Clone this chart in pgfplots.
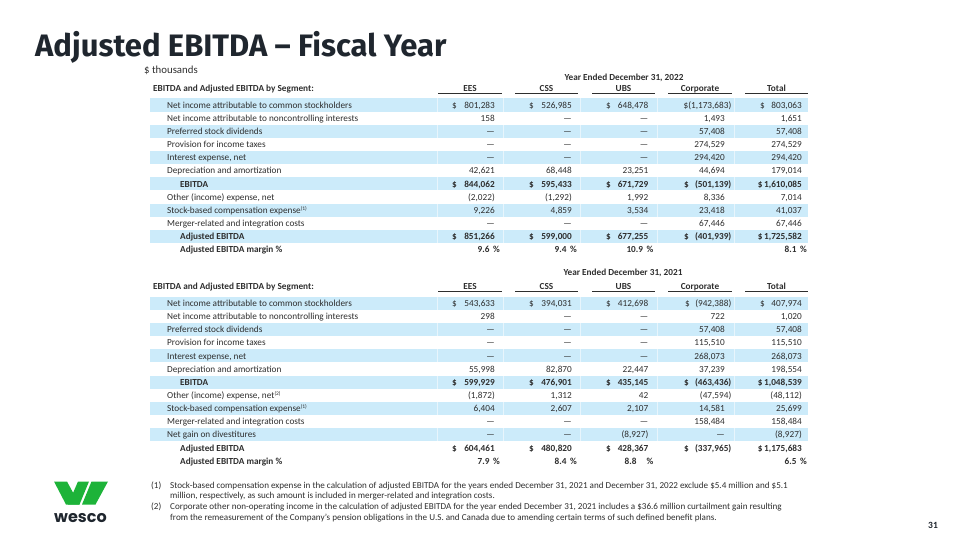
\documentclass[border=0pt]{standalone}
\usepackage{graphicx}
\usepackage{pgfplots}
\pgfplotsset{compat=1.18}
\usepackage{fontspec}
\setmainfont{Carlito}
\newfontfamily\titlefont{Fira Sans}
\newfontfamily\logofont{Poppins}
\definecolor{band}{HTML}{CCEBFA}
\definecolor{txt}{HTML}{2E2E2E}
\definecolor{ttl}{HTML}{1F262E}
\definecolor{wgreen}{HTML}{1DB339}
\newcommand\bodyfont{\fontsize{9.25}{10}\selectfont}
\tikzset{
  t/.style={font=\bodyfont, text=txt, inner sep=0pt, yshift=-3.2pt},
  L/.style={t, anchor=base west},
  N/.style={t, anchor=base east},
  C/.style={t, anchor=base},
}
\newcommand\dd{\textemdash}
\newcommand\fnm[1]{\raisebox{3.2pt}{\fontsize{5.5}{6}\selectfont(#1)}}
% normal row: y, label, EES, CSS, UBS, Corp, Total
\newcommand\Row[7]{%
  \node[L] at (axis cs:167,#1) {#2};
  \node[N] at (axis cs:495,#1) {#3};
  \node[N] at (axis cs:572,#1) {#4};
  \node[N] at (axis cs:648.5,#1) {#5};
  \node[N] at (axis cs:725,#1) {#6};
  \node[N] at (axis cs:802,#1) {#7};
}
\newcommand\BRow[7]{%
  \node[L] at (axis cs:180,#1) {\bfseries #2};
  \node[N] at (axis cs:495,#1) {\bfseries #3};
  \node[N] at (axis cs:572,#1) {\bfseries #4};
  \node[N] at (axis cs:648.5,#1) {\bfseries #5};
  \node[N] at (axis cs:725,#1) {\bfseries #6};
  \node[N] at (axis cs:802,#1) {\bfseries #7};
}
\newcommand\Dol[2]{\node[L] at (axis cs:#2,#1) {\$};}
\newcommand\BDol[2]{\node[L] at (axis cs:#2,#1) {\bfseries\$};}
\newcommand\Band[1]{%
  \fill[band] (axis cs:150,#1-6.57) rectangle (axis cs:808,#1+6.57);
  \draw[white, opacity=0.55, line width=0.6pt] (axis cs:437,#1-6.57) -- (axis cs:437,#1+6.57);
  \draw[white, opacity=0.55, line width=0.6pt] (axis cs:503,#1-6.57) -- (axis cs:503,#1+6.57);
  \draw[white, opacity=0.55, line width=0.6pt] (axis cs:580,#1-6.57) -- (axis cs:580,#1+6.57);
  \draw[white, opacity=0.55, line width=0.6pt] (axis cs:657,#1-6.57) -- (axis cs:657,#1+6.57);
  \draw[white, opacity=0.55, line width=0.6pt] (axis cs:734,#1-6.57) -- (axis cs:734,#1+6.57);
}
\newcommand\Hang[1]{#1\hspace*{-6.5pt}}
\newcommand\Pct[1]{\bfseries #1\hspace{3.5pt}\%\hspace*{-5pt}}
\newcommand\Heads[1]{%
  \node[C] at (axis cs:470,#1) {\bfseries EES};
  \node[C] at (axis cs:546.5,#1) {\bfseries CSS};
  \node[C] at (axis cs:623.5,#1) {\bfseries UBS};
  \node[C] at (axis cs:700,#1) {\bfseries Corporate};
  \node[C] at (axis cs:776.5,#1) {\bfseries Total};
  \node[L] at (axis cs:153,#1) {\bfseries EBITDA and Adjusted EBITDA by Segment:};
}
\newcommand\ULines[1]{%
  \draw[line width=0.8pt, txt] (axis cs:438,#1) -- (axis cs:502,#1);
  \draw[line width=0.8pt, txt] (axis cs:515,#1) -- (axis cs:578,#1);
  \draw[line width=0.8pt, txt] (axis cs:592,#1) -- (axis cs:655,#1);
  \draw[line width=0.8pt, txt] (axis cs:668,#1) -- (axis cs:732,#1);
  \draw[line width=0.8pt, txt] (axis cs:745,#1) -- (axis cs:808,#1);
}
\newcommand\fn{\fontsize{9.1}{10}\selectfont}
\begin{document}
\begin{tikzpicture}
\begin{axis}[
  width=960pt, height=540pt, scale only axis,
  xmin=0, xmax=960, ymin=0, ymax=540, y dir=reverse,
  hide axis, clip=false,
]
\path (axis cs:0,0) rectangle (axis cs:960,540);

% title
\node[anchor=base west, inner sep=0pt, text=ttl, font=\titlefont\bfseries\fontsize{31}{31}\selectfont] at (axis cs:35,57) {Adjusted EBITDA \textendash{} Fiscal Year};
\node[anchor=base west, inner sep=0pt, text=txt, font=\fontsize{10.8}{11}\selectfont] at (axis cs:144,74) {\$ thousands};

% ===== Table 1 (2022) =====
\Band{105}\Band{131.3}\Band{157.6}\Band{183.9}\Band{210.2}\Band{236.5}
\node[C] at (axis cs:624,77) {\bfseries Year Ended December 31, 2022};
\Heads{88.3}
\ULines{93.5}
\Row{105}{Net income attributable to common stockholders}{801,283}{526,985}{648,478}{\Hang{\$(1,173,683)}}{803,063}
\Dol{105}{452}\Dol{105}{529}\Dol{105}{606}\Dol{105}{760}
\Row{118.15}{Net income attributable to noncontrolling interests}{158}{\dd}{\dd}{1,493}{1,651}
\Row{131.3}{Preferred stock dividends}{\dd}{\dd}{\dd}{57,408}{57,408}
\Row{144.45}{Provision for income taxes}{\dd}{\dd}{\dd}{274,529}{274,529}
\Row{157.6}{Interest expense, net}{\dd}{\dd}{\dd}{294,420}{294,420}
\Row{170.75}{Depreciation and amortization}{42,621}{68,448}{23,251}{44,694}{179,014}
\BRow{183.9}{EBITDA}{844,062}{595,433}{671,729}{\Hang{(501,139)}}{\$\,1,610,085}
\BDol{183.9}{452}\BDol{183.9}{529}\BDol{183.9}{606}\BDol{183.9}{684}
\Row{197.05}{Other (income) expense, net}{(2,022)}{(1,292)}{1,992}{8,336}{7,014}
\Row{210.2}{Stock-based compensation expense\fnm{1}}{9,226}{4,859}{3,534}{23,418}{41,037}
\Row{223.35}{Merger-related and integration costs}{\dd}{\dd}{\dd}{67,446}{67,446}
\BRow{236.5}{Adjusted EBITDA}{851,266}{599,000}{677,255}{\Hang{(401,939)}}{\$\,1,725,582}
\BDol{236.5}{452}\BDol{236.5}{529}\BDol{236.5}{606}\BDol{236.5}{684}
\BRow{249.65}{Adjusted EBITDA margin \%}{\Pct{9.6}}{\Pct{9.4}}{\Pct{10.9}}{}{\Pct{8.1}}

% ===== Table 2 (2021) =====
\Band{303.3}\Band{329.58}\Band{355.86}\Band{382.14}\Band{408.42}\Band{434.7}
\node[C] at (axis cs:623,272) {\bfseries Year Ended December 31, 2021};
\Heads{286}
\ULines{291.5}
\Row{303.3}{Net income attributable to common stockholders}{543,633}{394,031}{412,698}{\Hang{(942,388)}}{407,974}
\Dol{303.3}{452}\Dol{303.3}{529}\Dol{303.3}{606}\Dol{303.3}{685}\Dol{303.3}{760}
\Row{316.44}{Net income attributable to noncontrolling interests}{298}{\dd}{\dd}{722}{1,020}
\Row{329.58}{Preferred stock dividends}{\dd}{\dd}{\dd}{57,408}{57,408}
\Row{342.72}{Provision for income taxes}{\dd}{\dd}{\dd}{115,510}{115,510}
\Row{355.86}{Interest expense, net}{\dd}{\dd}{\dd}{268,073}{268,073}
\Row{369.0}{Depreciation and amortization}{55,998}{82,870}{22,447}{37,239}{198,554}
\BRow{382.14}{EBITDA}{599,929}{476,901}{435,145}{\Hang{(463,436)}}{\$\,1,048,539}
\BDol{382.14}{452}\BDol{382.14}{529}\BDol{382.14}{606}\BDol{382.14}{684}
\Row{395.28}{Other (income) expense, net\fnm{2}}{(1,872)}{1,312}{42}{\Hang{(47,594)}}{(48,112)}
\Row{408.42}{Stock-based compensation expense\fnm{1}}{6,404}{2,607}{2,107}{14,581}{25,699}
\Row{421.56}{Merger-related and integration costs}{\dd}{\dd}{\dd}{158,484}{158,484}
\Row{434.7}{Net gain on divestitures}{\dd}{\dd}{(8,927)}{\dd}{(8,927)}
\BRow{447.84}{Adjusted EBITDA}{604,461}{480,820}{428,367}{\Hang{(337,965)}}{\$\,1,175,683}
\BDol{447.84}{452}\BDol{447.84}{529}\BDol{447.84}{606}\BDol{447.84}{684}
\BRow{460.98}{Adjusted EBITDA margin \%}{\Pct{7.9}}{\Pct{8.4}}{\bfseries 8.8\hspace{10pt}\%\hspace*{-5pt}}{}{\Pct{6.5}}

% ===== footnotes =====
\node[anchor=base west, inner sep=0pt, text=txt, font=\fn] at (axis cs:151,488) {(1)};
\node[anchor=base west, inner sep=0pt, text=txt, font=\fn] at (axis cs:170,488) {Stock-based compensation expense in the calculation of adjusted EBITDA for the years ended December 31, 2021 and December 31, 2022 exclude \$5.4 million and \$5.1};
\node[anchor=base west, inner sep=0pt, text=txt, font=\fn] at (axis cs:170,498.6) {million, respectively, as such amount is included in merger-related and integration costs.};
\node[anchor=base west, inner sep=0pt, text=txt, font=\fn] at (axis cs:151,509.3) {(2)};
\node[anchor=base west, inner sep=0pt, text=txt, font=\fn] at (axis cs:170,509.3) {Corporate other non-operating income in the calculation of adjusted EBITDA for the year ended December 31, 2021 includes a \$36.6 million curtailment gain resulting};
\node[anchor=base west, inner sep=0pt, text=txt, font=\fn] at (axis cs:170,520) {from the remeasurement of the Company's pension obligations in the U.S. and Canada due to amending certain terms of such defined benefit plans.};

% page number
\node[anchor=base east, inner sep=0pt, text=ttl, font=\fontsize{9.5}{10}\selectfont\bfseries] at (axis cs:938,528) {31};

% logo
\fill[wgreen] (axis cs:54,481.5) -- (axis cs:67,481.5) -- (axis cs:79.5,504.5) -- (axis cs:66,504.5) -- cycle;
\fill[wgreen] (axis cs:68,504.5) -- (axis cs:79.5,504.5) -- (axis cs:89,481.5) -- (axis cs:78,481.5) -- cycle;
\fill[wgreen] (axis cs:91.5,481.5) -- (axis cs:108,481.5) -- (axis cs:95.5,504.5) -- (axis cs:82,504.5) -- cycle;
\node[anchor=base west, inner sep=0pt, text=ttl, font=\logofont\fontsize{16}{16}\selectfont\bfseries] at (axis cs:54,522) {wesco};
\end{axis}
\end{tikzpicture}
\end{document}
